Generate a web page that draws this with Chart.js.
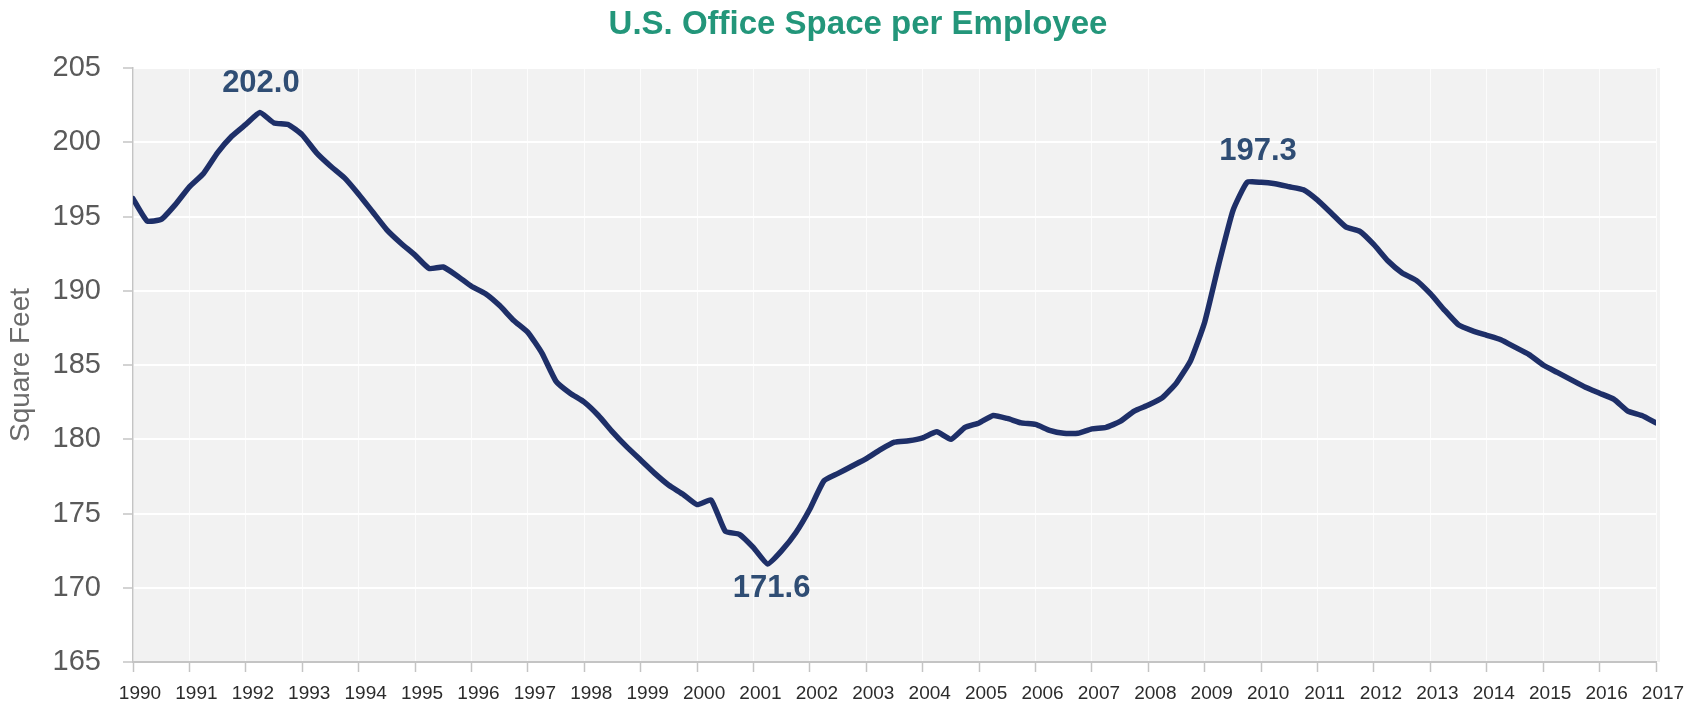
<!DOCTYPE html>
<html>
<head>
<meta charset="utf-8">
<title>U.S. Office Space per Employee</title>
<script src="https://cdn.jsdelivr.net/npm/chart.js@4.4.1/dist/chart.umd.min.js"></script>
<style>
  html, body { margin: 0; padding: 0; background: #ffffff; }
  #wrap { width: 1690px; height: 707px; }
</style>
</head>
<body>
<div id="wrap"><canvas id="officeChart" width="1690" height="707"></canvas></div>
<script>
'use strict';

/* ── Data: quarterly sq ft per office employee, 1990 Q1 → 2017 Q1 ── */
const startYear = 1990;
const officeSpace = [
  196.2, 194.7, 194.8, 195.8,   // 1990
  197.0, 197.9, 199.3, 200.4,   // 1991
  201.2, 202.0, 201.3, 201.2,   // 1992
  200.5, 199.3, 198.4, 197.6,   // 1993
  196.5, 195.3, 194.1, 193.2,   // 1994
  192.4, 191.5, 191.6, 191.0,   // 1995
  190.3, 189.8, 189.0, 188.0,   // 1996
  187.2, 185.8, 183.9, 183.1,   // 1997
  182.5, 181.6, 180.5, 179.5,   // 1998
  178.6, 177.7, 176.9, 176.3,   // 1999
  175.6, 175.9, 173.8, 173.6,   // 2000
  172.7, 171.6, 172.5, 173.7,   // 2001
  175.3, 177.2, 177.7, 178.2,   // 2002
  178.7, 179.3, 179.8, 179.9,   // 2003
  180.1, 180.5, 180.0, 180.8,   // 2004
  181.1, 181.6, 181.4, 181.1,   // 2005
  181.0, 180.6, 180.4, 180.4,   // 2006
  180.7, 180.8, 181.2, 181.9,   // 2007
  182.3, 182.8, 183.8, 185.3,   // 2008
  187.9, 191.8, 195.4, 197.3,   // 2009
  197.3, 197.2, 197.0, 196.8,   // 2010
  196.1, 195.2, 194.3, 194.0,   // 2011
  193.1, 192.0, 191.2, 190.7,   // 2012
  189.8, 188.7, 187.7, 187.3,   // 2013
  187.0, 186.7, 186.2, 185.7,   // 2014
  185.0, 184.5, 184.0, 183.5,   // 2015
  183.1, 182.7, 181.9, 181.6,   // 2016
  181.1                         // 2017
];

const yearLabels = [
  '1990', '1991', '1992', '1993', '1994', '1995', '1996', '1997', '1998', '1999',
  '2000', '2001', '2002', '2003', '2004', '2005', '2006', '2007', '2008', '2009',
  '2010', '2011', '2012', '2013', '2014', '2015', '2016', '2017'
];

// peak / trough / peak quarters that get a value callout
const calloutIdx = [9, 45, 79];

const points = officeSpace.map((v, i) => ({ x: startYear + i / 4, y: v }));

// ── Plugins ─────────────────────────────────────────────
const FONT = "'Liberation Sans', Arial, sans-serif";

const plotBg = {
  id: 'plotBg',
  beforeDraw(chart) {
    const { ctx, chartArea: a } = chart;
    ctx.save();
    ctx.fillStyle = '#f2f2f2';
    ctx.fillRect(a.left, a.top, a.right - a.left + 4, a.bottom - a.top);
    ctx.restore();
  }
};

const headline = {
  id: 'headline',
  afterDraw(chart) {
    const { ctx } = chart;
    ctx.save();
    ctx.font = `bold 33px ${FONT}`;
    ctx.fillStyle = '#23967a';
    ctx.textAlign = 'center';
    ctx.textBaseline = 'alphabetic';
    ctx.fillText('U.S. Office Space per Employee', 858, 34);
    ctx.restore();
  }
};

// value callouts: above for peaks, below for the trough
const callouts = {
  id: 'callouts',
  afterDatasetsDraw(chart) {
    const { ctx } = chart;
    const meta = chart.getDatasetMeta(0);
    const shift = { 9: [1, -29], 45: [4, 24], 79: [11, -31] };
    ctx.save();
    ctx.font = `bold 31px ${FONT}`;
    ctx.fillStyle = '#2f4d74';
    ctx.textAlign = 'center';
    ctx.textBaseline = 'middle';
    calloutIdx.forEach(i => {
      const pt = meta.data[i];
      const [dx, dy] = shift[i];
      ctx.fillText(officeSpace[i].toFixed(1), pt.x + dx, pt.y + dy);
    });
    ctx.restore();
  }
};

// ── Chart ───────────────────────────────────────────────
new Chart(document.getElementById('officeChart'), {
  type: 'line',
  data: {
    datasets: [{
      data: points,
      borderColor: '#1e2f68',
      borderWidth: 5.5,
      borderJoinStyle: 'round',
      borderCapStyle: 'round',
      pointRadius: 0,
      tension: 0.15,
      fill: false
    }]
  },
  options: {
    responsive: false,
    animation: false,
    layout: { padding: { top: 68, right: 34, left: 0, bottom: 0 } },
    plugins: {
      legend: { display: false },
      tooltip: { enabled: false }
    },
    scales: {
      x: {
        type: 'linear',
        min: 1990,
        max: 2017,
        afterFit: s => { s.height = 45; },
        grid: {
          color: 'rgba(255,255,255,0.75)',
          lineWidth: 1,
          tickColor: '#c4c4c4',
          tickLength: 10,
          tickWidth: 1.5
        },
        border: { color: '#c4c4c4', width: 2 },
        ticks: {
          stepSize: 1,
          autoSkip: false,
          maxRotation: 0,
          padding: 10,
          labelOffset: 7,
          color: '#2b2b2b',
          font: { family: FONT, size: 19 },
          callback: v => yearLabels[v - startYear]
        }
      },
      y: {
        min: 165,
        max: 205,
        afterFit: s => { s.width = 133; },
        grid: {
          color: '#ffffff',
          lineWidth: 2,
          tickColor: '#c4c4c4',
          tickLength: 10,
          tickWidth: 1.5
        },
        border: { color: '#c4c4c4', width: 1.5 },
        ticks: {
          stepSize: 5,
          padding: 22,
          color: '#5a5a5a',
          font: { family: FONT, size: 29 }
        },
        title: {
          display: true,
          text: 'Square Feet',
          color: '#6b6b6b',
          font: { family: FONT, size: 28 },
          padding: { top: 4, bottom: 0 }
        }
      }
    }
  },
  plugins: [plotBg, headline, callouts]
});
</script>
</body>
</html>
